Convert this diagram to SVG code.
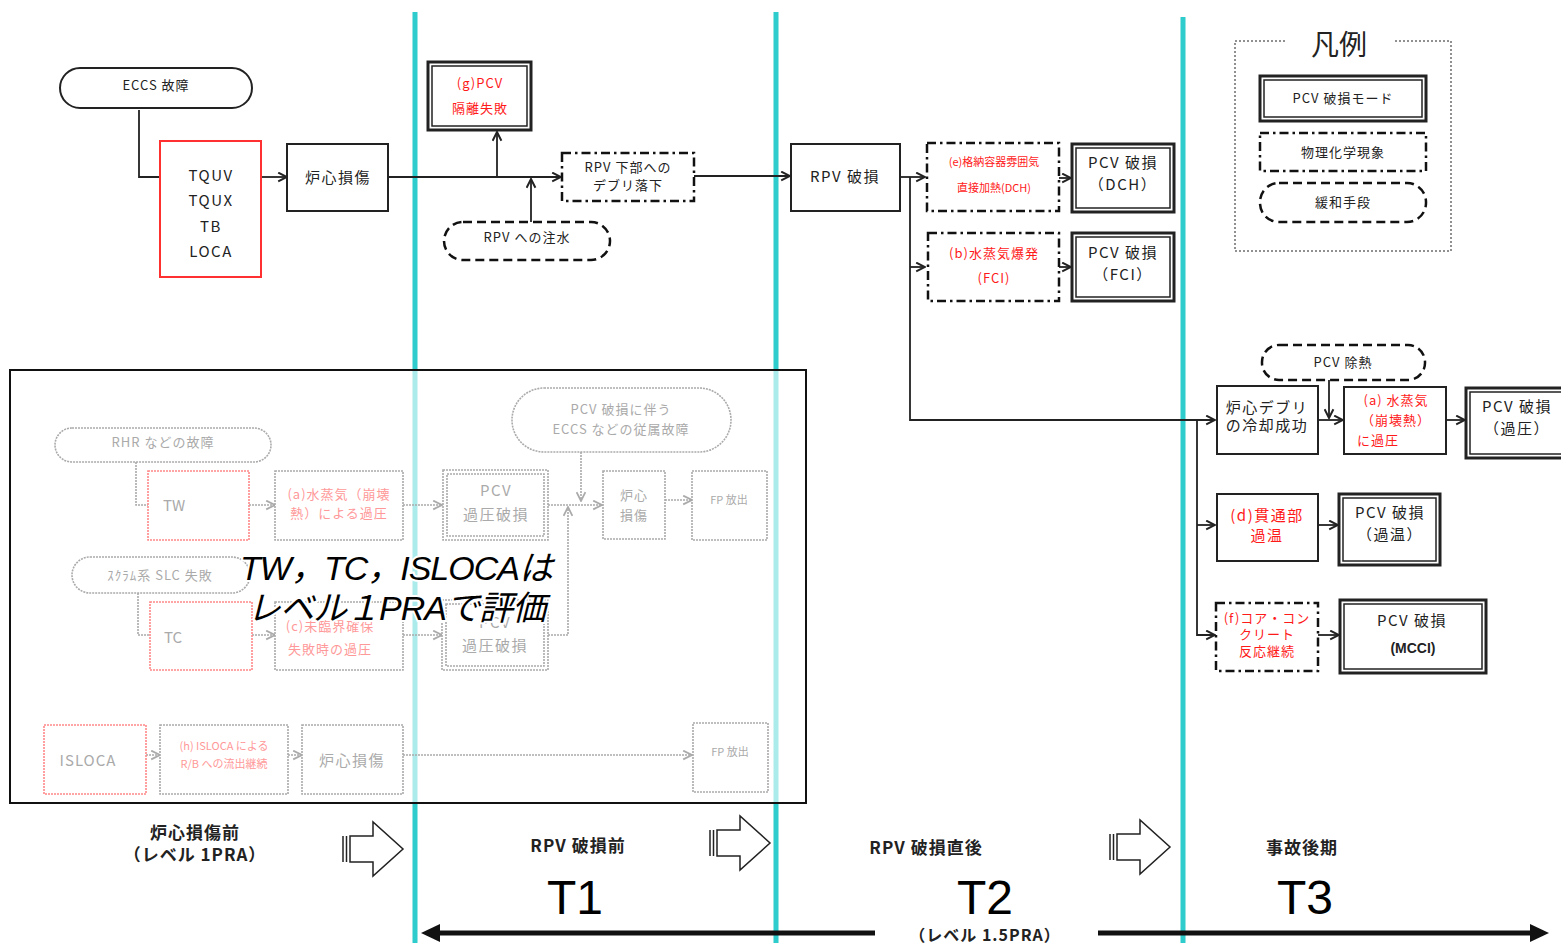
<svg xmlns="http://www.w3.org/2000/svg" width="1561" height="943" viewBox="0 0 1561 943">
<defs>
<style>
text{font-family:"Noto Sans CJK JP","Liberation Sans",sans-serif;text-anchor:middle;fill:#222}
.t16{font-size:15px;letter-spacing:1.5px}
.t13{font-size:13px;letter-spacing:1px}
.t11{font-size:11px}
.red{fill:#ff1a1a}
.box{fill:#fff;stroke:#222;stroke-width:2}
.redbox{fill:#fff;stroke:#ff3030;stroke-width:2}
.dbl-o{fill:#fff;stroke:#222;stroke-width:3}
.dbl-i{fill:none;stroke:#222;stroke-width:1.5}
.dd{fill:#fff;stroke:#111;stroke-width:2.5;stroke-dasharray:9 4 2.5 4}
.dash{fill:#fff;stroke:#111;stroke-width:2.5;stroke-dasharray:9 5}
.pill{fill:#fff;stroke:#222;stroke-width:2}
.con{fill:none;stroke:#222;stroke-width:1.8}
.fcon{fill:none;stroke:#aaa;stroke-width:1.6;stroke-dasharray:2 1}
.fbox{fill:#fff;stroke:#aaa;stroke-width:1.6;stroke-dasharray:2 1}
.fred{fill:#fff;stroke:#f88;stroke-width:1.6;stroke-dasharray:2 1}
.ft{fill:#aaa}
.fr{fill:#f99}
.cyan{stroke:#2ecccc;stroke-width:5}
.big{font-size:48px;font-family:"Liberation Sans",sans-serif;fill:#000}
.lab{font-size:17px;font-weight:bold;letter-spacing:1px}
.note{font-size:34px;font-style:italic;font-family:"Liberation Sans","Noto Sans CJK JP",sans-serif;fill:#000;paint-order:stroke;stroke:#fff;stroke-width:4;letter-spacing:-1px}
</style>
<marker id="a" viewBox="0 0 10 10" refX="9" refY="5" markerWidth="11" markerHeight="11" markerUnits="userSpaceOnUse" orient="auto"><path d="M1,1 L9,5 L1,9" fill="none" stroke="#222" stroke-width="1.8"/></marker>
<marker id="ag" viewBox="0 0 10 10" refX="9" refY="5" markerWidth="11" markerHeight="11" markerUnits="userSpaceOnUse" orient="auto"><path d="M1,1 L9,5 L1,9" fill="none" stroke="#aaa" stroke-width="1.6"/></marker>
<g id="blk">
<line x1="0" y1="-13" x2="0" y2="13" stroke="#222" stroke-width="1.5"/>
<line x1="3.5" y1="-13" x2="3.5" y2="13" stroke="#222" stroke-width="1.5"/>
<path d="M7,-13 H30 V-27 L60,0 L30,27 V13 H7 Z" fill="#fff" stroke="#222" stroke-width="1.5"/>
</g>
</defs>
<rect width="1561" height="943" fill="#fff"/>

<g id="dividers">
<line class="cyan" x1="415" y1="12" x2="415" y2="943"/>
<line class="cyan" x1="776" y1="12" x2="776" y2="943"/>
<line class="cyan" x1="1183" y1="17" x2="1183" y2="943"/>
</g>

<g id="level1-region">
<rect x="10" y="370" width="796" height="433" fill="#fff" fill-opacity="0.6" stroke="#111" stroke-width="2"/>
</g>

<g id="connectors">
<path class="con" d="M139,110 V177 H160"/>
<path class="con" d="M261,177 H287" marker-end="url(#a)"/>
<path class="con" d="M388,177 H561" marker-end="url(#a)"/>
<path class="con" d="M497,177 V132" marker-end="url(#a)"/>
<path class="con" d="M531,222 V179" marker-end="url(#a)"/>
<path class="con" d="M694,176 H790" marker-end="url(#a)"/>
<path class="con" d="M900,177 H925" marker-end="url(#a)"/>
<path class="con" d="M910,177 V420 H1215" marker-end="url(#a)"/>
<path class="con" d="M910,267 H925" marker-end="url(#a)"/>
<path class="con" d="M1059,178 H1071" marker-end="url(#a)"/>
<path class="con" d="M1059,267 H1071" marker-end="url(#a)"/>
<path class="con" d="M1329,380 V418" marker-end="url(#a)"/>
<path class="con" d="M1318,420 H1343" marker-end="url(#a)"/>
<path class="con" d="M1446,420 H1465" marker-end="url(#a)"/>
<path class="con" d="M1197,420 V635 H1215" marker-end="url(#a)"/>
<path class="con" d="M1197,525 H1215" marker-end="url(#a)"/>
<path class="con" d="M1318,525 H1338" marker-end="url(#a)"/>
<path class="con" d="M1318,635 H1339" marker-end="url(#a)"/>
<path class="fcon" d="M136,462 V505 H148"/>
<path class="fcon" d="M249,505 H275" marker-end="url(#ag)"/>
<path class="fcon" d="M403,505 H442" marker-end="url(#ag)"/>
<path class="fcon" d="M548,505 H602" marker-end="url(#ag)"/>
<path class="fcon" d="M581,452 V501" marker-end="url(#ag)"/>
<path class="fcon" d="M665,500 H692" marker-end="url(#ag)"/>
<path class="fcon" d="M138,593 V635 H150"/>
<path class="fcon" d="M252,635 H275" marker-end="url(#ag)"/>
<path class="fcon" d="M403,635 H442" marker-end="url(#ag)"/>
<path class="fcon" d="M548,635 H568 V507" marker-end="url(#ag)"/>
<path class="fcon" d="M146,755 H160" marker-end="url(#ag)"/>
<path class="fcon" d="M288,755 H302" marker-end="url(#ag)"/>
<path class="fcon" d="M403,755 H692" marker-end="url(#ag)"/>
</g>

<g id="eccs"><rect class="pill" x="60" y="68" width="192" height="40" rx="20"/><text class="t13" x="156" y="90">ECCS 故障</text></g>
<g id="tquv"><rect class="redbox" x="160" y="141" width="101" height="136"/>
<text class="t16" x="211" y="181">TQUV</text><text class="t16" x="211" y="206">TQUX</text><text class="t16" x="211" y="232">TB</text><text class="t16" x="211" y="257">LOCA</text></g>
<g id="core-damage"><rect class="box" x="287" y="144" width="101" height="67"/><text class="t16" x="338" y="183">炉心損傷</text></g>
<g id="g-pcv"><rect class="dbl-o" x="428" y="62" width="103" height="68"/><rect class="dbl-i" x="432" y="66" width="95" height="60"/>
<text class="t13 red" x="480" y="88">(g)PCV</text><text class="t13 red" x="480" y="113">隔離失敗</text></g>
<g id="rpv-inject"><rect class="dash" x="444" y="222" width="166" height="38" rx="19"/><text class="t13" x="527" y="242">RPV への注水</text></g>
<g id="debris-fall"><rect class="dd" x="562" y="153" width="132" height="48"/>
<text class="t13" x="628" y="172">RPV 下部への</text><text class="t13" x="628" y="190">デブリ落下</text></g>
<g id="rpv-fail"><rect class="box" x="791" y="144" width="109" height="67"/><text class="t16" x="845" y="182">RPV 破損</text></g>
<g id="e-dch"><rect class="dd" x="927" y="143" width="132" height="68"/>
<text class="t11 red" x="994" y="166">(e)格納容器雰囲気</text><text class="t11 red" x="994" y="192">直接加熱(DCH)</text></g>
<g id="pcv-dch"><rect class="dbl-o" x="1072" y="144" width="102" height="68"/><rect class="dbl-i" x="1076" y="148" width="94" height="60"/>
<text class="t16" x="1123" y="168">PCV 破損</text><text class="t16" x="1123" y="190">（DCH）</text></g>
<g id="b-fci"><rect class="dd" x="928" y="233" width="131" height="68"/>
<text class="t13 red" x="994" y="258">(b)水蒸気爆発</text><text class="t13 red" x="994" y="283">(FCI)</text></g>
<g id="pcv-fci"><rect class="dbl-o" x="1072" y="233" width="102" height="68"/><rect class="dbl-i" x="1076" y="237" width="94" height="60"/>
<text class="t16" x="1123" y="258">PCV 破損</text><text class="t16" x="1123" y="280">（FCI）</text></g>

<g id="legend">
<path d="M1285,41 H1235 V251 H1451 V41 H1395" fill="none" stroke="#222" stroke-width="1" stroke-dasharray="2 2"/>
<text x="1339" y="55" style="font-size:28px">凡例</text>
<rect class="dbl-o" x="1260" y="76" width="166" height="45"/><rect class="dbl-i" x="1264" y="80" width="158" height="37"/>
<text class="t13" x="1343" y="103">PCV 破損モード</text>
<rect class="dd" x="1260" y="133" width="166" height="38"/><text class="t13" x="1343" y="157">物理化学現象</text>
<rect class="dash" x="1260" y="183" width="166" height="39" rx="19"/><text class="t13" x="1343" y="207">緩和手段</text>
</g>

<g id="pcv-heat"><rect class="dash" x="1262" y="345" width="163" height="35" rx="17"/><text class="t13" x="1343" y="367">PCV 除熱</text></g>
<g id="debris-cool"><rect class="box" x="1217" y="386" width="101" height="68"/>
<text class="t16" x="1267" y="413">炉心デブリ</text><text class="t16" x="1267" y="431">の冷却成功</text></g>
<g id="a-steam"><rect class="box" x="1344" y="387" width="102" height="67"/>
<text class="t13 red" x="1396" y="405">(a) 水蒸気</text><text class="t13 red" x="1396" y="425">（崩壊熱）</text><text class="t13 red" x="1378" y="445">に過圧</text></g>
<g id="pcv-op"><rect class="dbl-o" x="1466" y="388" width="100" height="70"/><rect class="dbl-i" x="1470" y="392" width="92" height="62"/>
<text class="t16" x="1517" y="412">PCV 破損</text><text class="t16" x="1517" y="434">（過圧）</text></g>
<g id="d-pen"><rect class="box" x="1217" y="494" width="101" height="67"/>
<text class="t16 red" x="1267" y="521">(d)貫通部</text><text class="t16 red" x="1267" y="541">過温</text></g>
<g id="pcv-ot"><rect class="dbl-o" x="1339" y="494" width="101" height="71"/><rect class="dbl-i" x="1343" y="498" width="93" height="63"/>
<text class="t16" x="1390" y="518">PCV 破損</text><text class="t16" x="1390" y="540">（過温）</text></g>
<g id="f-mcci"><rect class="dd" x="1216" y="603" width="102" height="68"/>
<text class="t13 red" x="1267" y="623">(f)コア・コン</text><text class="t13 red" x="1267" y="639">クリート</text><text class="t13 red" x="1267" y="656">反応継続</text></g>
<g id="pcv-mcci"><rect class="dbl-o" x="1340" y="600" width="146" height="73"/><rect class="dbl-i" x="1344" y="604" width="138" height="65"/>
<text class="t16" x="1412" y="626">PCV 破損</text><text x="1413" y="653" style="font-size:14px;font-weight:bold;font-family:'Liberation Sans',sans-serif">(MCCI)</text></g>

<g id="rhr"><rect class="fbox" x="55" y="428" width="216" height="34" rx="17"/><text class="t13 ft" x="163" y="447">RHR などの故障</text></g>
<g id="tw"><rect class="fred" x="148" y="471" width="101" height="69"/><text class="ft" x="174" y="511" style="font-size:15px">TW</text></g>
<g id="a-tw"><rect class="fbox" x="275" y="471" width="128" height="69"/>
<text class="t13 fr" x="339" y="499">(a)水蒸気（崩壊</text><text class="t13 fr" x="339" y="518">熱）による過圧</text></g>
<g id="pcv-op1"><rect class="fbox" x="443" y="470" width="105" height="70" stroke-width="3"/><rect class="fbox" x="447" y="474" width="97" height="62" fill="none"/>
<text class="t16 ft" x="496" y="496">PCV</text><text class="t16 ft" x="496" y="520">過圧破損</text></g>
<g id="eccs-dep"><rect class="fbox" x="512" y="388" width="219" height="64" rx="32"/>
<text class="t13 ft" x="621" y="414">PCV 破損に伴う</text><text class="t13 ft" x="621" y="434">ECCS などの従属故障</text></g>
<g id="cd2"><rect class="fbox" x="603" y="471" width="62" height="68"/>
<text class="t13 ft" x="634" y="500">炉心</text><text class="t13 ft" x="634" y="520">損傷</text></g>
<g id="fp1"><rect class="fbox" x="692" y="471" width="75" height="69"/><text class="t11 ft" x="729" y="504">FP 放出</text></g>
<g id="scram"><rect class="fbox" x="72" y="557" width="178" height="36" rx="18"/><text class="t13 ft" x="160" y="580">ｽｸﾗﾑ系  SLC 失敗</text></g>
<g id="tc"><rect class="fred" x="150" y="602" width="102" height="68"/><text class="ft" x="173" y="643" style="font-size:15px">TC</text></g>
<g id="c-tc"><rect class="fbox" x="275" y="602" width="128" height="68"/>
<text class="t13 fr" x="330" y="631">(c)未臨界確保</text><text class="t13 fr" x="330" y="654">失敗時の過圧</text></g>
<g id="pcv-op2"><rect class="fbox" x="442" y="600" width="106" height="70" stroke-width="3"/><rect class="fbox" x="446" y="604" width="98" height="62" fill="none"/>
<text class="t16 ft" x="495" y="628">PCV</text><text class="t16 ft" x="495" y="651">過圧破損</text></g>
<g id="isloca"><rect class="fred" x="44" y="725" width="102" height="69"/><text class="ft" x="88" y="766" style="font-size:15px;letter-spacing:1px">ISLOCA</text></g>
<g id="h-isloca"><rect class="fbox" x="160" y="725" width="128" height="69"/>
<text class="t11 fr" x="224" y="750">(h) ISLOCA による</text><text class="t11 fr" x="224" y="768">R/B への流出継続</text></g>
<g id="cd3"><rect class="fbox" x="302" y="725" width="101" height="69"/><text class="t16 ft" x="352" y="766">炉心損傷</text></g>
<g id="fp2"><rect class="fbox" x="693" y="723" width="75" height="69"/><text class="t11 ft" x="730" y="756">FP 放出</text></g>

<g id="note">
<text class="note" x="396" y="580">TW，TC，ISLOCAは</text>
<text class="note" x="396" y="620">レベル１PRAで評価</text>
</g>

<g id="phases">
<text class="lab" x="195" y="839">炉心損傷前</text>
<text class="lab" x="195" y="861">（レベル 1PRA）</text>
<use href="#blk" transform="translate(343,849)"/>
<text class="lab" x="578" y="852">RPV 破損前</text>
<text class="big" x="575" y="914">T1</text>
<use href="#blk" transform="translate(710,843)"/>
<text class="lab" x="926" y="854">RPV 破損直後</text>
<text class="big" x="985" y="914">T2</text>
<text class="lab" x="985" y="941" style="font-size:16px">（レベル 1.5PRA）</text>
<use href="#blk" transform="translate(1110,847)"/>
<text class="lab" x="1302" y="854">事故後期</text>
<text class="big" x="1305" y="914">T3</text>
<line x1="436" y1="933" x2="875" y2="933" stroke="#111" stroke-width="5"/>
<path d="M421,933 L440,924 L440,942 Z" fill="#111"/>
<line x1="1098" y1="933" x2="1534" y2="933" stroke="#111" stroke-width="5"/>
<path d="M1549,933 L1530,924 L1530,942 Z" fill="#111"/>
</g>
</svg>
